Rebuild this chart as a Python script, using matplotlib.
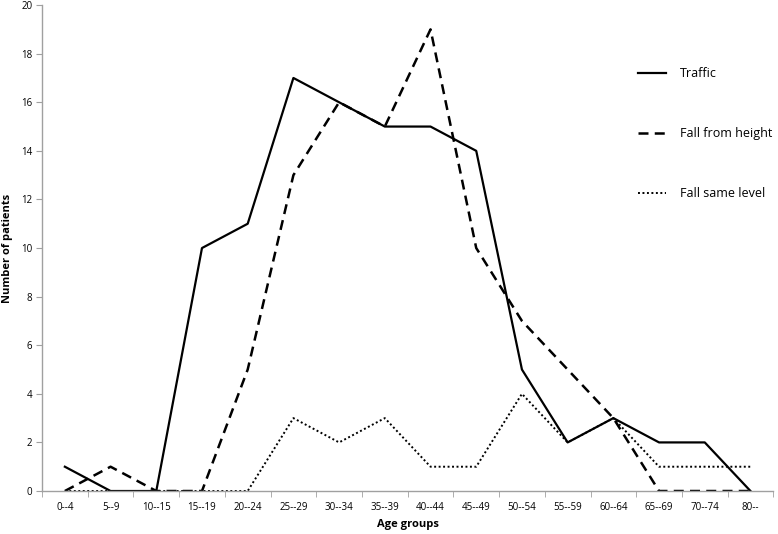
import matplotlib
matplotlib.use("Agg")
import matplotlib.pyplot as plt
import numpy as np

categories = ["0--4", "5--9", "10--15", "15--19", "20--24", "25--29", "30--34", "35--39",
              "40--44", "45--49", "50--54", "55--59", "60--64", "65--69", "70--74", "80--"]
traffic = [1, 0, 0, 10, 11, 17, 16, 15, 15, 14, 5, 2, 3, 2, 2, 0]
fall_height = [0, 1, 0, 0, 5, 13, 16, 15, 19, 10, 7, 5, 3, 0, 0, 0]
fall_same = [0, 0, 0, 0, 0, 3, 2, 3, 1, 1, 4, 2, 3, 1, 1, 1]

plt.rcParams['font.family'] = ['Open Sans', 'DejaVu Sans']

fig = plt.figure(figsize=(7.78, 5.34), dpi=100)
ax = fig.add_axes([0.054, 0.0805, 0.94, 0.910])

x = np.arange(len(categories))
ax.plot(x, traffic, color='black', lw=1.6, ls='-', label='Traffic')
ax.plot(x, fall_height, color='black', lw=1.8, ls=(0, (4, 2.5)), label='Fall from height')
ax.plot(x, fall_same, color='black', lw=1.4, ls=(0, (1, 1.3)), label='Fall same level')

ax.set_xlim(-0.5, len(categories) - 0.5)
ax.set_ylim(0, 20)
ax.set_yticks(np.arange(0, 21, 2))
ax.set_xticks(x)
ax.set_xticklabels(categories)
ax.set_xticks(np.arange(-0.5, len(categories), 1), minor=True)
ax.tick_params(axis='x', which='major', length=0, labelsize=7, pad=8)
ax.tick_params(axis='x', which='minor', length=4, color='#a0a0a0', direction='out')
ax.tick_params(axis='y', length=4, color='#a0a0a0', labelsize=7, pad=3)

for s in ['top', 'right']:
    ax.spines[s].set_visible(False)
for s in ['left', 'bottom']:
    ax.spines[s].set_color('#a0a0a0')
    ax.spines[s].set_linewidth(1.0)

ax.set_ylabel('Number of patients', fontsize=8, fontweight='bold', labelpad=6)
ax.set_xlabel('Age groups', fontsize=8, fontweight='bold', labelpad=4)

ax.legend(loc='upper left', bbox_to_anchor=(0.80, 0.895), frameon=False,
          fontsize=9, labelspacing=3.75, handlelength=2.2, handletextpad=1.1)

fig.savefig('out.png', dpi=100)
